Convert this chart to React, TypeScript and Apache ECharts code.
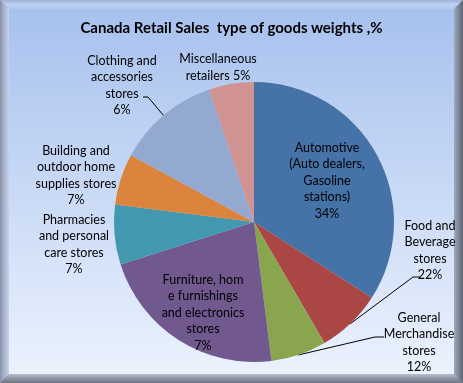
import React, { useEffect, useRef } from "react";
import * as echarts from "echarts";

const title = "Canada Retail Sales  type of goods weights ,%";
// slice names as printed (with the line breaks of the picture)
const categories = [
  "Automotive\n(Auto dealers,\nGasoline\nstations)",
  "Food and\nBeverage\nstores",
  "General\nMerchandise\nstores",
  "Furniture, hom\ne furnishings\nand electronics\nstores",
  "Pharmacies\nand personal\ncare stores",
  "Building and\noutdoor home\nsupplies stores",
  "Clothing and\naccessories\nstores",
  "Miscellaneous\nretailers",
];
// slice sizes as drawn (%)
const sliceValues = [34.1, 7.5, 6.4, 22.1, 6.9, 5.9, 11.9, 5.2];
// percentages printed in the labels
const labelPercents = [34, 22, 12, 7, 7, 7, 6, 5];
const colors = ["#4572A7", "#AA4643", "#89A54E", "#71588F", "#4198AF", "#DB843D", "#93A9CF", "#D19392"];

// label placement (text centre) and leader lines
const labelPos: Record<number, { x: number; y: number; line?: number[][] }> = {
  0: { x: 327, y: 180 },
  1: { x: 430, y: 250, line: [[350, 324], [413, 277], [420, 277]] },
  2: { x: 419, y: 342, line: [[298, 355], [375, 337], [384, 337]] },
  3: { x: 203, y: 312 },
  4: { x: 74, y: 244 },
  5: { x: 76, y: 175 },
  6: { x: 122, y: 85, line: [[164, 116], [148, 97], [143, 97]] },
  7: { x: 218, y: 67 },
};

const W = 463;
const H = 383;
const B = 9;

export default function App() {
  const ref = useRef<HTMLDivElement>(null);
  useEffect(() => {
    if (!ref.current) return;
    const chart = echarts.init(ref.current, null, { renderer: "svg" });
    const font = "Lato, 'Open Sans', sans-serif";
    chart.setOption({
      animation: false,
      graphic: [
        {
          type: "rect",
          z: -10,
          shape: { x: 0, y: 0, width: W, height: H },
          style: { fill: "#8F9AB0" },
          silent: true,
        },
        // top bevel
        {
          type: "polygon",
          z: -9,
          shape: { points: [[0, 0], [W, 0], [W - B, B], [B, B]] },
          style: {
            fill: new echarts.graphic.LinearGradient(0, 0, 0, 1, [
              { offset: 0, color: "#9FB2D6" },
              { offset: 0.5, color: "#BFD0F0" },
              { offset: 1, color: "#B3C8EE" },
            ]),
          },
          silent: true,
        },
        // left bevel
        {
          type: "polygon",
          z: -9,
          shape: { points: [[0, 0], [B, B], [B, H - B], [0, H]] },
          style: {
            fill: new echarts.graphic.LinearGradient(0, 0, 1, 0, [
              { offset: 0, color: "#8A93A8" },
              { offset: 0.5, color: "#A9B6D0" },
              { offset: 1, color: "#C4D3EE" },
            ]),
          },
          silent: true,
        },
        // right bevel
        {
          type: "polygon",
          z: -9,
          shape: { points: [[W, 0], [W, H], [W - B, H - B], [W - B, B]] },
          style: {
            fill: new echarts.graphic.LinearGradient(0, 0, 1, 0, [
              { offset: 0, color: "#A0ABC0" },
              { offset: 0.5, color: "#7E8798" },
              { offset: 1, color: "#5E6674" },
            ]),
          },
          silent: true,
        },
        // bottom bevel
        {
          type: "polygon",
          z: -9,
          shape: { points: [[0, H], [B, H - B], [W - B, H - B], [W, H]] },
          style: {
            fill: new echarts.graphic.LinearGradient(0, 0, 0, 1, [
              { offset: 0, color: "#B8BFCC" },
              { offset: 0.5, color: "#8E95A2" },
              { offset: 1, color: "#6E7480" },
            ]),
          },
          silent: true,
        },
        // inner plot background
        {
          type: "rect",
          z: -8,
          shape: { x: B, y: B, width: W - 2 * B, height: H - 2 * B },
          style: {
            fill: new echarts.graphic.LinearGradient(0, 0, 0, 1, [
              { offset: 0, color: "#A7C1EE" },
              { offset: 1, color: "#EBF2FD" },
            ]),
          },
          silent: true,
        },
      ],
      title: {
        text: title,
        left: "center",
        top: 14,
        textStyle: { fontFamily: font, fontSize: 15, fontWeight: "bold", color: "#000" },
      },
      series: [
        {
          type: "pie",
          center: [254, 222],
          radius: [0, 140],
          startAngle: 90,
          clockwise: true,
          avoidLabelOverlap: false,
          color: colors,
          itemStyle: { borderWidth: 0 },
          label: {
            show: true,
            position: "outside",
            color: "#000",
            fontFamily: font,
            fontSize: 12.5,
            lineHeight: 16.5,
            align: "center",
            formatter: (p: any) => `${categories[p.dataIndex]}${p.dataIndex === 7 ? " " : "\n"}${labelPercents[p.dataIndex]}%`,
          },
          labelLine: { show: true, smooth: false, lineStyle: { color: "#000", width: 1 } },
          labelLayout: (p: any) => {
            const lp = labelPos[p.dataIndex];
            const o: any = { x: lp.x, y: lp.y, align: "center", verticalAlign: "middle" };
            if (lp.line) o.labelLinePoints = lp.line;
            return o;
          },
          data: sliceValues.map((v, i) => ({
            value: v,
            name: categories[i],
            labelLine: { show: !!labelPos[i].line },
          })),
        },
      ],
    });
    return () => chart.dispose();
  }, []);
  return <div ref={ref} style={{ position: "fixed", left: 0, top: 0, width: W, height: H }} />;
}
